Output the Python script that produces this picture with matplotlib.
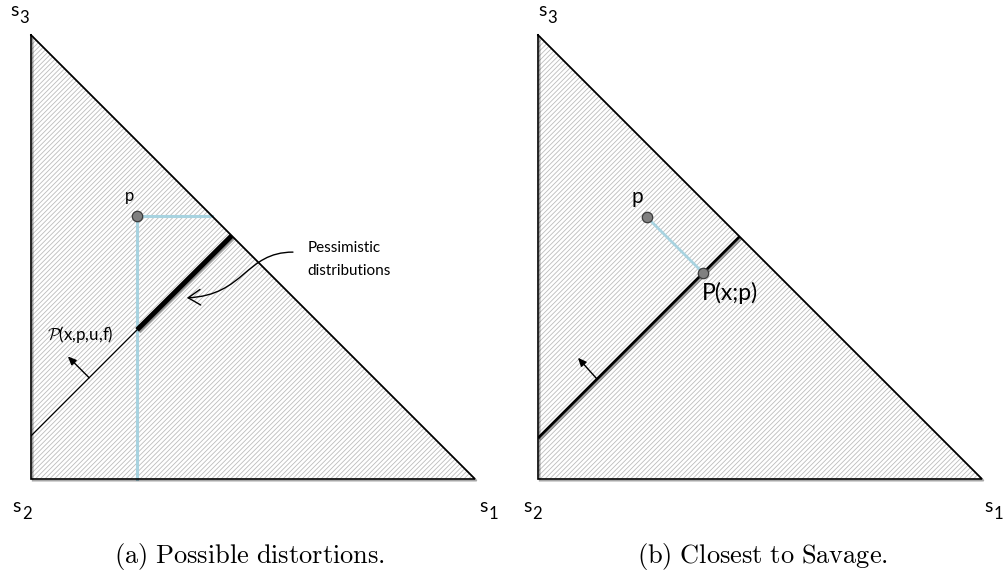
#!/usr/bin/env python

#IMPORTS---------------------------------------
from matplotlib import pyplot as plt
from matplotlib.patches import Polygon, FancyArrowPatch
from matplotlib.path import Path
import matplotlib.patheffects as pe
import matplotlib.transforms as mtransforms
#----------------------------------------------

#CONFIGS---------------------------------------
plt.rcParams['font.family'] = ['Lato', 'DejaVu Sans']
plt.rcParams['hatch.linewidth'] = 0.6
W, H = 1006, 577
#----------------------------------------------

#DATA (simplex coords)----
simplex_x = [0, 0, 1]
simplex_y = [1, 0, 0]

# panel (a)
p_a = (0.239, 0.592)
blue_h_x = [0.239, 0.408]; blue_h_y = [0.592, 0.592]
blue_v_x = [0.239, 0.239]; blue_v_y = [0.592, 0.0]
thin_x = [0.0, 0.239];     thin_y = [0.097, 0.336]
thick_x = [0.239, 0.452];  thick_y = [0.336, 0.548]
normal_a = [(0.131, 0.228), (0.083, 0.276)]
curve_a = [(0.590, 0.511), (0.482, 0.511), (0.482, 0.414), (0.351, 0.408)]

# panel (b)
p_b = (0.245, 0.590)
proj_b = (0.372, 0.464)
line_b_x = [0.0, 0.454];   line_b_y = [0.092, 0.546]
normal_b = [(0.133, 0.225), (0.090, 0.273)]
#----------------------------------------------

fig = plt.figure(figsize=(W/100, H/100), dpi=100)
axL = fig.add_axes([31/W, 98/H, 444/W, 444/H])
axR = fig.add_axes([538/W, 98/H, 444/W, 444/H])

shadow = [pe.SimpleLineShadow(offset=(1.2, -1.2), alpha=0.35), pe.Normal()]

def simplex(ax):
  ax.set_xlim(0, 1); ax.set_ylim(0, 1)
  ax.axis('off')
  tri = Polygon(list(zip(simplex_x, simplex_y)), closed=True, facecolor='white',
                edgecolor='#bcbcbc', hatch='///////', linewidth=0, zorder=1)
  ax.add_patch(tri)
  ax.plot(simplex_x + simplex_x[:1], simplex_y + simplex_y[:1], color='black',
          lw=1.2, clip_on=False, zorder=5, path_effects=shadow,
          solid_joinstyle='miter')

def s_label(ax, x, y, k):
  ax.text(x, y, 's', fontsize=14, ha='left', va='baseline', clip_on=False)
  sub = mtransforms.offset_copy(ax.transData, fig=fig, x=9, y=-7, units='dots')
  ax.text(x, y, str(k), fontsize=12, ha='left', va='baseline', clip_on=False,
          transform=sub)

def normal_arrow(ax, seg):
  ax.annotate('', xy=seg[1], xytext=seg[0],
              arrowprops=dict(arrowstyle='-|>,head_length=0.5,head_width=0.22',
                              lw=1.0, color='black', shrinkA=0, shrinkB=0),
              zorder=6)

#PANEL (a)--------------------------------------
simplex(axL)
s_label(axL, -0.047, 1.043, 3)
s_label(axL, -0.041, -0.074, 2)
s_label(axL, 1.011, -0.074, 1)

axL.plot(blue_h_x, blue_h_y, color='#a8d3e0', lw=2.2, zorder=3, clip_on=False)
axL.plot(blue_v_x, blue_v_y, color='#a8d3e0', lw=2.2, zorder=3, clip_on=False)
axL.plot(thin_x, thin_y, color='black', lw=0.9, zorder=4)
axL.plot(thick_x, thick_y, color='black', lw=3.6, zorder=4,
         solid_capstyle='butt', path_effects=shadow)
axL.plot(*p_a, 'o', ms=7.5, mfc='#808080', mec='#3a3a3a', mew=0.9, zorder=7)
axL.text(0.221, 0.626, 'p', fontsize=12, ha='center', va='baseline')
normal_arrow(axL, normal_a)
axL.text(0.036, 0.313, r'$\mathcal{P}$(x,p,u,f)', fontsize=12.2, ha='left',
         va='baseline', math_fontfamily='cm')

curve = Path(curve_a, [Path.MOVETO, Path.CURVE4, Path.CURVE4, Path.CURVE4])
arr = FancyArrowPatch(path=curve, arrowstyle='->,head_length=0.55,head_width=0.35',
                      mutation_scale=16, lw=1.0, color='black',
                      transform=axL.transData, zorder=6, clip_on=False)
axL.add_patch(arr)
axL.text(0.622, 0.511, 'Pessimistic', fontsize=11, ha='left', va='baseline')
axL.text(0.622, 0.459, 'distributions', fontsize=11, ha='left', va='baseline')
#-----------------------------------------------

#PANEL (b)--------------------------------------
simplex(axR)
s_label(axR, 0.0, 1.043, 3)
s_label(axR, -0.034, -0.074, 2)
s_label(axR, 1.006, -0.074, 1)

axR.plot(line_b_x, line_b_y, color='black', lw=2.0, zorder=4,
         solid_capstyle='butt', path_effects=shadow)
axR.plot([p_b[0], proj_b[0]], [p_b[1], proj_b[1]], color='#a8d3e0', lw=2.0, zorder=5)
axR.plot(*p_b, 'o', ms=7.5, mfc='#808080', mec='#3a3a3a', mew=0.9, zorder=7)
axR.plot(*proj_b, 'o', ms=7.5, mfc='#808080', mec='#3a3a3a', mew=0.9, zorder=7)
axR.text(0.223, 0.622, 'p', fontsize=15, ha='center', va='baseline')
axR.text(0.369, 0.403, 'P(x;p)', fontsize=16.5, ha='left', va='baseline')
normal_arrow(axR, normal_b)
#-----------------------------------------------

#CAPTIONS---------------------------------------
fig.text(250/W, 1 - 557/H, r'$\mathrm{(a)\ Possible\ distortions.}$', fontsize=19,
         ha='center', va='center', math_fontfamily='cm')
fig.text(763/W, 1 - 557/H, r'$\mathrm{(b)\ Closest\ to\ Savage.}$', fontsize=19,
         ha='center', va='center', math_fontfamily='cm')
#-----------------------------------------------

fig.savefig('out.png', dpi=100)
